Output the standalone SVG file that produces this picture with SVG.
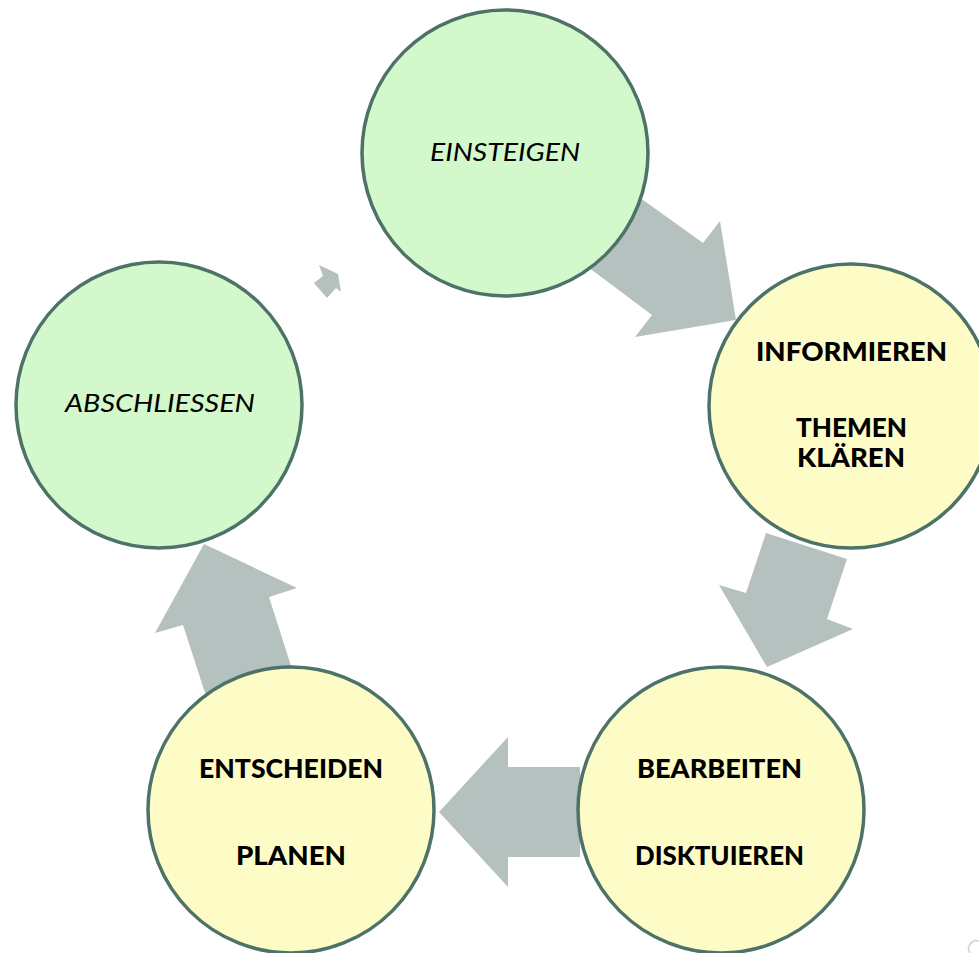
<svg xmlns="http://www.w3.org/2000/svg" width="979" height="953" viewBox="0 0 979 953">
<style>
.arrow{fill:#b5c1be;stroke:none}
.node circle{stroke:#4d7268;stroke-width:3.5}
.green circle{fill:#d3f8cb}
.yellow circle{fill:#fefcc6}
.t{font-family:"Lato","Open Sans","Liberation Sans",sans-serif;fill:#000;text-anchor:middle}
.b{font-weight:900;font-size:27px}
.i{font-style:italic;font-size:25px}
</style>
<rect width="979" height="953" fill="#fff"/>
<g id="connectors">
<polygon class="arrow" points="560,246 652,315 635,337 736,320 720,221 703,243 611,177"/>
<polygon class="arrow" points="766,533 847,559 827,619 853,629 767,667 719,585 746,593"/>
<polygon class="arrow" points="439,812 508,737 508,767 580,767 580,857 508,857 508,887"/>
<polygon class="arrow" points="204,544 297,588 269,597 293,672 207,699 183,625 155,633"/>
<polygon class="arrow" points="319,265 338,274 341,292 336,288 327,298 314,283 323,276"/>
</g>
<g id="einsteigen" class="node green">
<circle cx="505" cy="153" r="143"/>
<text class="t i" x="505" y="161" textLength="150" lengthAdjust="spacingAndGlyphs">EINSTEIGEN</text>
</g>
<g id="informieren" class="node yellow">
<circle cx="851" cy="406" r="142"/>
<text class="t b" x="851.5" y="361" textLength="191" lengthAdjust="spacingAndGlyphs">INFORMIEREN</text>
<text class="t b" x="851.5" y="437" textLength="111" lengthAdjust="spacingAndGlyphs">THEMEN</text>
<text class="t b" x="851" y="467" textLength="108" lengthAdjust="spacingAndGlyphs">KLÄREN</text>
</g>
<g id="bearbeiten" class="node yellow">
<circle cx="721" cy="810" r="143"/>
<text class="t b" x="719.5" y="778" textLength="165" lengthAdjust="spacingAndGlyphs">BEARBEITEN</text>
<text class="t b" x="719.5" y="865" textLength="169" lengthAdjust="spacingAndGlyphs">DISKTUIEREN</text>
</g>
<g id="entscheiden" class="node yellow">
<circle cx="291" cy="810" r="143"/>
<text class="t b" x="291" y="778" textLength="184" lengthAdjust="spacingAndGlyphs">ENTSCHEIDEN</text>
<text class="t b" x="291" y="865" textLength="110" lengthAdjust="spacingAndGlyphs">PLANEN</text>
</g>
<g id="abschliessen" class="node green">
<circle cx="159" cy="405" r="143"/>
<text class="t i" x="160" y="412" textLength="190" lengthAdjust="spacingAndGlyphs">ABSCHLIESSEN</text>
</g>
<path d="M970,953 A8,8 0 0 1 979,941" fill="none" stroke="#d8d8d8" stroke-width="2"/>
</svg>
